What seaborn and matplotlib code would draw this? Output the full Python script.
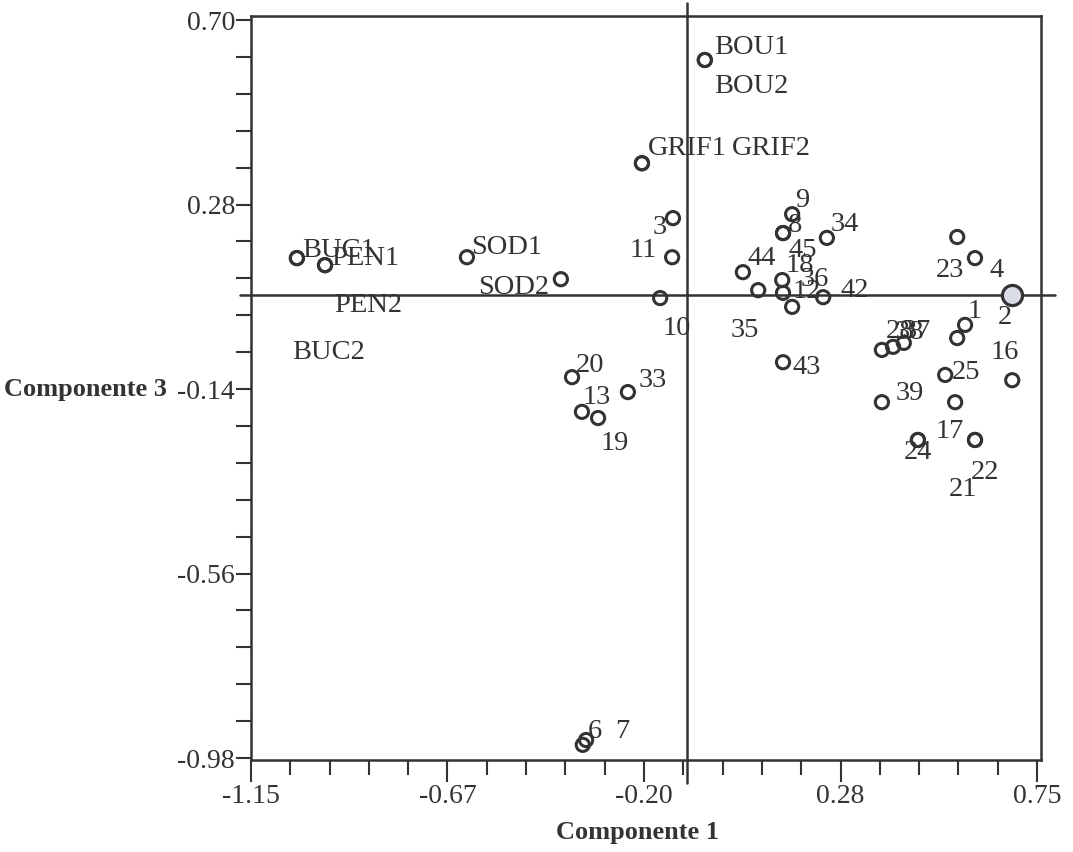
import matplotlib
matplotlib.use("Agg")
import matplotlib.pyplot as plt
from matplotlib.ticker import FixedLocator
import seaborn as sns
import pandas as pd

# Scores on principal components 1 and 3
ids = ["BOU1", "BOU2", "GRIF1", "GRIF2", "BUC1", "BUC2", "PEN1", "PEN2",
       "SOD1", "SOD2", "1", "2", "3", "4", "6", "7", "8", "9", "10", "11",
       "12", "13", "16", "17", "18", "19", "20", "21", "22", "23", "24",
       "25", "26", "27", "28", "33", "34", "35", "36", "37", "38", "39",
       "42", "43", "44", "45"]
comp1 = [-0.053, -0.053, -0.205, -0.205, -1.039, -1.039, -0.971, -0.971,
         -0.628, -0.401, 0.576, 0.690, -0.130, 0.600, -0.348, -0.340, 0.136,
         0.158, -0.161, -0.132, 0.158, -0.350, 0.690, 0.462, 0.134, -0.311,
         -0.374, 0.600, 0.600, 0.557, 0.462, 0.528, 0.557, 0.552, 0.375,
         -0.239, 0.242, 0.076, 0.136, 0.428, 0.402, 0.375, 0.233, 0.136,
         0.039, 0.136]
comp3 = [0.609, 0.609, 0.374, 0.374, 0.158, 0.158, 0.142, 0.142,
         0.160, 0.110, 0.006, 0.074, 0.249, 0.158, -0.950, -0.939, 0.215,
         0.258, 0.067, 0.160, 0.047, -0.192, -0.120, -0.256, 0.108, -0.206,
         -0.113, -0.256, -0.256, 0.206, -0.256, -0.108, -0.024, -0.170,
         -0.051, -0.147, 0.204, 0.085, 0.079, -0.035, -0.044, -0.170, 0.069,
         -0.079, 0.126, 0.215]

# Reference cross (centre of the projection)
origin_c1 = -0.096
origin_c3 = 0.074

xtick_vals = [-1.15, -0.675, -0.20, 0.275, 0.75]
xtick_labels = ["-1.15", "-0.67", "-0.20", "0.28", "0.75"]
ytick_vals = [-0.98, -0.56, -0.14, 0.28, 0.70]
ytick_labels = ["-0.98", "-0.56", "-0.14", "0.28", "0.70"]

# Label placement (pixels right / down from each marker)
label_offsets = {
    "BOU1": (46, -12), "BOU2": (46, 27), "GRIF1": (45, -15), "GRIF2": (129, -15),
    "BUC1": (42, -8), "BUC2": (32, 94), "PEN1": (40, -7), "PEN2": (43, 40),
    "SOD1": (40, -10), "SOD2": (-47, 8),
    "1": (10, -13), "2": (-7, 22), "3": (-13, 9), "4": (22, 12), "6": (12, -13),
    "7": (36, -8), "8": (12, -8), "9": (10, -14), "10": (17, 30), "11": (-29, -7),
    "12": (15, -15), "13": (15, -14), "16": (-7, -28), "17": (32, -8),
    "18": (18, -15), "19": (17, 25), "20": (18, -12), "21": (-12, 50),
    "22": (10, 33), "23": (-7, 33), "24": (0, 13), "25": (21, -2),
    "28": (18, -18), "33": (25, -12), "34": (18, -13), "35": (-13, 40),
    "36": (32, -13), "37": (13, -11), "38": (17, -14), "39": (28, -9),
    "42": (32, -7), "43": (24, 5), "44": (19, -14), "45": (20, 17),
}

ink = "#333333"

sns.set_theme(style="white")
plt.rcParams["font.family"] = ["Liberation Serif", "DejaVu Serif"]
plt.rcParams["text.color"] = ink

df = pd.DataFrame({"id": ids, "c1": comp1, "c3": comp3})
big = df["id"] == "2"

fig = plt.figure(figsize=(10.73, 8.52), dpi=100)
ax = fig.add_axes([0.2339, 0.108, 0.7363, 0.8732])

sns.scatterplot(data=df[~big], x="c1", y="c3", ax=ax, marker="o", s=90,
                facecolor="none", edgecolor=ink, linewidth=2.2, zorder=3)
sns.scatterplot(data=df[big], x="c1", y="c3", ax=ax, marker="o", s=210,
                facecolor="#d9dce6", edgecolor=ink, linewidth=2.3, zorder=3)

for _, row in df.iterrows():
    if row["id"] not in label_offsets:
        continue
    dx, dy = label_offsets[row["id"]]
    ax.annotate(row["id"], (row["c1"], row["c3"]), xytext=(dx, -dy),
                textcoords="offset pixels", ha="center", va="center",
                fontsize=20.5, color=ink, zorder=4)

ax.axvline(origin_c1, ymin=-0.031, ymax=1.018, color=ink, lw=1.8,
           clip_on=False, zorder=2)
ax.axhline(origin_c3, xmin=-0.014, xmax=1.018, color=ink, lw=1.8,
           clip_on=False, zorder=2)

ax.set_xlim(-1.15, 0.7596)
ax.set_ylim(-0.9845, 0.7091)

ax.xaxis.set_major_locator(FixedLocator(xtick_vals))
ax.set_xticklabels(xtick_labels)
ax.xaxis.set_minor_locator(FixedLocator(
    [-1.15 + 0.095 * k for k in range(21) if k % 5 != 0]))
ax.yaxis.set_major_locator(FixedLocator(ytick_vals))
ax.set_yticklabels(ytick_labels)
ax.yaxis.set_minor_locator(FixedLocator(
    [-0.98 + 0.084 * k for k in range(21) if k % 5 != 0]))

ax.tick_params(axis="x", which="major", direction="out", length=15.5,
               width=1.5, color=ink, labelsize=20, labelcolor=ink, pad=2,
               bottom=True)
ax.tick_params(axis="x", which="minor", direction="out", length=10.5,
               width=1.5, color=ink, bottom=True)
ax.tick_params(axis="y", which="both", direction="out", length=10.5,
               width=1.5, color=ink, labelsize=20, labelcolor=ink, pad=1,
               left=True)

for sp in ax.spines.values():
    sp.set_visible(True)
    sp.set_color(ink)
    sp.set_linewidth(1.8)

ax.set_xlabel("Componente 1", fontsize=19, fontweight="bold", color=ink,
              va="center")
ax.xaxis.set_label_coords(0.489, -0.098)
ax.set_ylabel("Componente 3", fontsize=19, fontweight="bold", color=ink,
              rotation=0, ha="right", va="center")
ax.yaxis.set_label_coords(-0.106, 0.498)

fig.savefig("out.png", dpi=100, facecolor="white")
